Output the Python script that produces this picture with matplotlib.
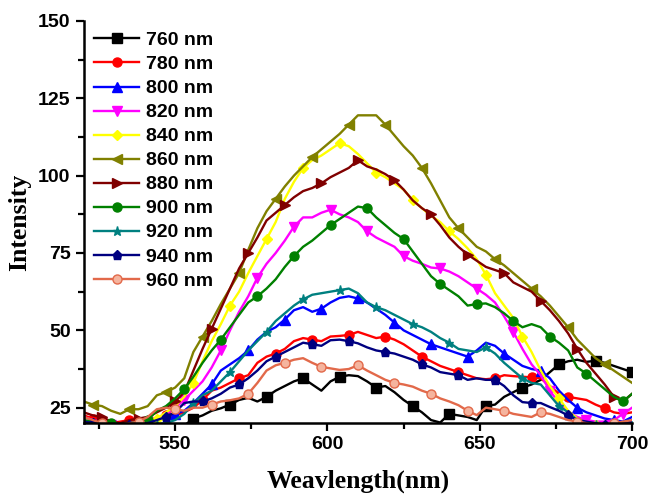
import numpy as np
import matplotlib
matplotlib.use('Agg')
import matplotlib.pyplot as plt
from matplotlib.ticker import MultipleLocator

# wavelength axis (nm), one value every 3 nm
wl = np.arange(520, 701, 3)

s760 = [18.5, 18, 18.3, 18, 17.8, 18.2, 18, 18.5, 18.3, 18.6, 18.8, 19.2,
        21.5, 22.5, 24, 24.8, 26, 27.5, 28.2, 27, 28.5, 30.5, 32, 33.5, 34.5, 32.5,
        30.5, 33.5, 35, 35.5, 35.2, 33.5, 31.5, 32, 30, 27.5, 25.5, 23.5, 21, 20.2,
        23, 22.5, 22, 21, 25.5, 26, 28.5, 30, 31.5, 32.5, 34, 36.5, 39, 40, 40.5,
        39.8, 40.2, 39.5, 38.5, 37.5, 36.5]
s780 = [22.5, 21.5, 21, 20, 20.5, 21, 20.5, 20.5, 21.5, 22.5, 22.5, 23.5, 25, 27.5,
        30.5, 31.5, 33, 34.5, 35.5, 39.5, 41.5, 42.5, 44, 46.5, 47.5, 47, 46.5, 48,
        48.2, 48.5, 49.5, 48.5, 47.5, 48, 47, 45.5, 43.5, 41.5, 40, 38.5, 37.5, 36.5,
        35.5, 34.5, 34.2, 34.5, 35.5, 35.2, 35, 34.8, 34.5, 32, 29.5, 28.5, 28, 27.5,
        26, 24.8, 23.5, 23, 23.5]
s800 = [20, 19.5, 19, 19.5, 19, 20, 20.5, 20, 21.5, 22.5, 23, 24, 26.5, 29.5, 32.5,
        37, 39, 41, 43.5, 47, 49.5, 51, 53.5, 56.5, 57.5, 56, 57, 59, 60.5, 61, 60.3,
        59, 57, 55, 52.5, 50, 48.5, 47, 45.5, 44.5, 43.5, 42.5, 41.5, 43.5, 46, 45,
        42.5, 40.5, 38.5, 37.5, 37, 34.5, 30.5, 27.5, 25, 23.5, 22.5, 21.5, 21, 20.5, 22]
s820 = [22, 21, 20.5, 19.5, 19, 19.5, 20, 20.5, 21.5, 23, 25, 27.5, 30.5, 33.5, 38,
        43.5, 50, 56, 61, 67, 71.5, 75, 79, 83.5, 86.5, 86.5, 88, 89, 87.5, 86.5, 85,
        82, 80, 78.5, 77, 74, 72.5, 71.5, 70.3, 70, 69, 67.5, 65.5, 63.5, 61.5, 59,
        54.5, 49.5, 44, 39, 35.5, 30.5, 26.5, 23.5, 22, 21, 20.5, 20.5, 21, 23, 25]
s840 = [19, 18.5, 18.5, 19, 18.5, 19, 19.5, 20, 21.5, 23.5, 25.5, 28.5, 33, 40, 46.5,
        52, 58, 62.5, 68.5, 74, 79.5, 85, 92.5, 98, 102.5, 105, 106.5, 108.5, 110.5,
        109.5, 107, 104, 101, 99.5, 97.5, 95.5, 92, 89.5, 87, 85, 82, 79.5, 76.5, 73,
        68, 62, 58, 54, 48, 43, 37, 32, 28, 24, 21.5, 20, 19.5, 19, 18.5, 18.5, 18]
s860 = [27, 26, 25.5, 24, 23, 24.5, 24.5, 25.5, 29, 30, 31.5, 34.5, 43, 48, 53, 58.5,
        63.5, 68.5, 76, 83, 88.5, 92.5, 96.5, 100, 103, 106, 108.5, 111, 113.5, 116.5,
        119.5, 119.5, 119.5, 116.5, 113, 109.5, 106.5, 102.5, 97.5, 92, 86.5, 83, 80,
        77, 75.5, 73, 71, 68.5, 66, 63.5, 61, 58, 54.5, 51, 47, 44, 41, 39, 37, 35, 33]
s880 = [23.5, 22.5, 22, 20.5, 20, 21, 21.5, 22, 23.5, 25, 27, 30, 37, 44, 50.5, 57,
        63.5, 70, 75, 80, 85.5, 88, 90.5, 93, 95, 96, 97.5, 99.5, 101, 102.5, 105, 103,
        102, 100.5, 98.5, 95.5, 92, 89.5, 87.5, 84, 80, 77, 74.5, 72.5, 70.5, 69.5,
        68.5, 65.5, 64, 62.5, 59.5, 56.5, 53, 49, 44, 39.5, 36, 32.5, 28.5, 27, 29.5]
s900 = [21, 20.5, 20, 20, 19.5, 20, 20.5, 21, 24, 25.5, 28, 31, 35, 39.5, 43.5, 47,
        51, 55, 59, 61, 63.5, 66.5, 70.5, 74, 77, 79, 81.5, 84, 86, 88, 90, 89.5, 86.5,
        84, 81.5, 79.5, 75.5, 71.5, 67.5, 65, 63, 61, 58, 58.5, 58.7, 57.5, 55.5, 53,
        51, 52, 51, 48, 46, 43.5, 38, 36, 33.5, 31, 28.5, 27, 29.5]
s920 = [18, 17.5, 18, 18.5, 18, 18.5, 18.5, 19, 19.5, 20, 21, 23, 26.5, 29, 30.5, 33.5,
        36.5, 40, 43.5, 46.5, 49.5, 53, 55.5, 58, 60, 61.5, 62, 62.5, 63, 63.5, 62, 59,
        57.5, 56.5, 55, 53.5, 52, 51, 49.5, 47.5, 46, 44, 43.5, 43, 44.5, 42.5, 39.5,
        37, 34.5, 33, 32.5, 29, 25.5, 23.5, 21, 20, 19.5, 19, 19, 18.5, 19]
s940 = [20.5, 20, 19.5, 19, 19, 19.5, 20, 20, 21, 22, 23.5, 26.5, 27, 27, 28, 29.5,
        31.5, 32.5, 34.5, 37, 40, 41.5, 43, 44.5, 46, 45.5, 45, 46.8, 47, 46.5, 45.8,
        44.5, 43.5, 43, 42.5, 41.5, 40.5, 39, 38, 36.5, 36, 35.5, 34, 34.5, 34, 34, 32,
        29, 26.8, 26.5, 26.5, 25.2, 24, 22.5, 21, 20.5, 20, 19.5, 19.5, 20, 20.5]
s960 = [22, 21, 20, 19.5, 19.5, 20, 20.5, 22, 24.5, 25, 24.5, 24, 25, 25, 26, 27, 27.4,
        28, 29.5, 33, 37, 38.7, 39.5, 40.5, 41, 39.5, 38.2, 37.7, 37.2, 37.5, 38.7, 37,
        35.5, 34, 33, 32.5, 31.8, 30.5, 29.5, 28, 27, 25.8, 24, 22.6, 25, 24.5, 24, 23,
        22.5, 22, 23.5, 23, 22, 21, 20.5, 20, 19.5, 19.5, 20, 20.5, 21]

labels = ['760 nm', '780 nm', '800 nm', '820 nm', '840 nm', '860 nm',
          '880 nm', '900 nm', '920 nm', '940 nm', '960 nm']
series = [s760, s780, s800, s820, s840, s860, s880, s900, s920, s940, s960]
colors = ['#000000', '#ff0000', '#0000ff', '#ff00ff', '#ffff00', '#808000',
          '#800000', '#008000', '#008080', '#000080', '#e2694a']
markers = ['s', 'o', '^', 'v', 'D', '<', '>', 'o', '*', 'p', 'o']

fig = plt.figure(figsize=(6.49, 4.99), dpi=100)
ax = fig.add_axes([0.129, 0.152, 0.845, 0.806])

for i in range(len(series)):
    face = '#f5b49e' if labels[i] == '960 nm' else colors[i]
    ms = 5 if markers[i] == 'D' else 6.5
    ax.plot(wl, series[i], color=colors[i], lw=1.7, marker=markers[i],
            markersize=ms, markerfacecolor=face, markeredgecolor=colors[i],
            markevery=(i % 4, 4), label=labels[i])

ax.set_xlim(520, 700)
ax.set_ylim(20, 150)
ax.xaxis.set_minor_locator(MultipleLocator(25))
ax.set_xticks([550, 600, 650, 700])
ax.yaxis.set_minor_locator(MultipleLocator(12.5))
ax.set_yticks([25, 50, 75, 100, 125, 150])

ax.spines['top'].set_visible(False)
ax.spines['right'].set_visible(False)
ax.spines['left'].set_linewidth(1.8)
ax.spines['bottom'].set_linewidth(1.8)
ax.tick_params(which='major', direction='out', length=6, width=1.6, labelsize=14)
ax.tick_params(which='minor', direction='out', length=4, width=1.6)
for t in ax.get_xticklabels() + ax.get_yticklabels():
    t.set_fontfamily('Liberation Sans')
    t.set_fontweight('bold')

ax.set_xlabel('Weavlength(nm)', fontsize=18.5, fontweight='bold',
              family='Liberation Serif', labelpad=12)
ax.set_ylabel('Intensity', fontsize=18.5, fontweight='bold',
              family='Liberation Serif', labelpad=5)

leg = ax.legend(loc='upper left', frameon=False, handlelength=2.3,
                handletextpad=0.35, labelspacing=0.33, borderaxespad=0.15,
                prop={'family': 'Liberation Sans', 'weight': 'bold', 'size': 14})

fig.savefig('out.png', dpi=100)
